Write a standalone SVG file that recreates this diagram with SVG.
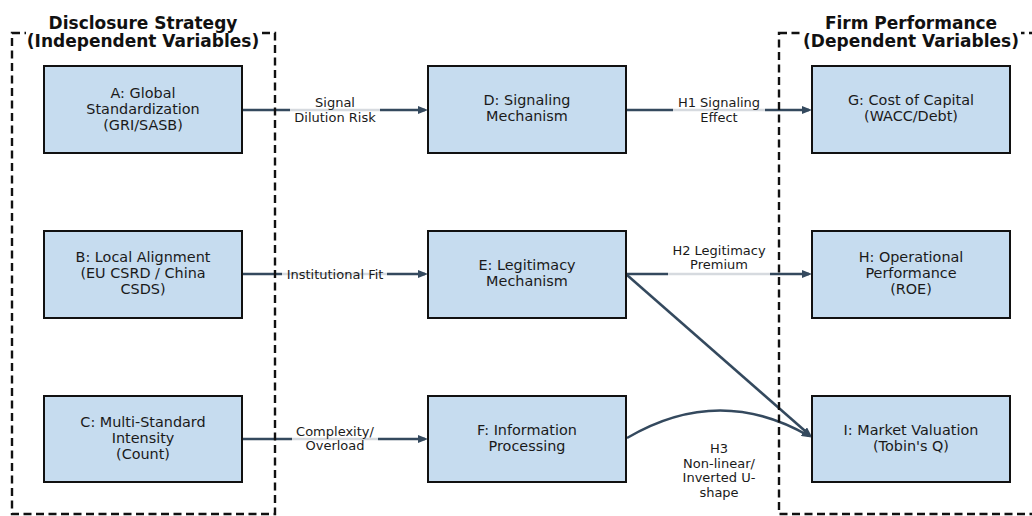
<svg xmlns="http://www.w3.org/2000/svg" width="1032" height="516" viewBox="0 0 1032 516">
<style>
.node rect{fill:#c6dcef;stroke:#111;stroke-width:2}
.node text{font-family:"DejaVu Sans",sans-serif;font-size:14.4px;fill:#1a1a1a;text-anchor:middle}
.edge{fill:none;stroke:#34495e;stroke-width:2.5;marker-end:url(#ah)}
.lbg{fill:#fff;opacity:0.8}
.lbl{font-family:"DejaVu Sans",sans-serif;font-size:13px;fill:#1a1a1a;text-anchor:middle}
.grp{fill:none;stroke:#111;stroke-width:2.4;stroke-dasharray:8 4.5}
.ttl{font-family:"DejaVu Sans",sans-serif;font-size:17px;font-weight:bold;fill:#111;text-anchor:middle}
</style>
<defs>
<marker id="ah" viewBox="0 0 10 8" refX="7" refY="4" markerWidth="10" markerHeight="8" markerUnits="userSpaceOnUse" orient="auto">
<path d="M0,0 L10,4 L0,8 z" fill="#34495e"/>
</marker>
</defs>
<rect width="1032" height="516" fill="#fff"/>
<g id="connectors">
<path class="edge" d="M242,110 L425,110"/>
<path class="edge" d="M626,110 L809,110"/>
<path class="edge" d="M242,274 L425,274"/>
<path class="edge" d="M626,274 L809,274"/>
<path class="edge" d="M242,439 L425,439"/>
<path class="edge" d="M627,275 L809.7,435"/>
<path class="edge" d="M627,438 Q719,384 809,436"/>
<rect class="lbg" x="290" y="94" width="90" height="32"/>
<text class="lbl" x="335" y="107">Signal</text>
<text class="lbl" x="335" y="121.5">Dilution Risk</text>
<rect class="lbg" x="673" y="94" width="92" height="32"/>
<text class="lbl" x="719" y="107">H1 Signaling</text>
<text class="lbl" x="719" y="121.5">Effect</text>
<rect class="lbg" x="282" y="264" width="105" height="20"/>
<text class="lbl" x="335" y="278.5">Institutional Fit</text>
<rect class="lbg" x="668" y="241" width="102" height="35"/>
<text class="lbl" x="719" y="254.5">H2 Legitimacy</text>
<text class="lbl" x="719" y="269">Premium</text>
<rect class="lbg" x="292" y="422" width="86" height="32"/>
<text class="lbl" x="335" y="435.5">Complexity/</text>
<text class="lbl" x="335" y="450">Overload</text>
<text class="lbl" x="719" y="453">H3</text>
<text class="lbl" x="719" y="467.5">Non-linear/</text>
<text class="lbl" x="719" y="482">Inverted U-</text>
<text class="lbl" x="719" y="496.5">shape</text>
</g>
<g id="group-independent">
<rect class="grp" x="12" y="33" width="263" height="481"/>
<rect x="26" y="12" width="234" height="40" fill="#fff"/>
<text class="ttl" x="143" y="29">Disclosure Strategy</text>
<text class="ttl" x="143" y="47">(Independent Variables)</text>
</g>
<g id="group-dependent">
<rect class="grp" x="779" y="33" width="270" height="481"/>
<rect x="801" y="12" width="220" height="40" fill="#fff"/>
<text class="ttl" x="911" y="29">Firm Performance</text>
<text class="ttl" x="911" y="47">(Dependent Variables)</text>
</g>
<g id="node-A" class="node"><rect x="44" y="66" width="198" height="87"/><text x="143" y="98">A: Global</text><text x="143" y="114">Standardization</text><text x="143" y="130">(GRI/SASB)</text></g>
<g id="node-B" class="node"><rect x="44" y="231" width="198" height="87"/><text x="143" y="262">B: Local Alignment</text><text x="143" y="278">(EU CSRD / China</text><text x="143" y="294">CSDS)</text></g>
<g id="node-C" class="node"><rect x="44" y="396" width="198" height="86"/><text x="143" y="427">C: Multi-Standard</text><text x="143" y="443">Intensity</text><text x="143" y="459">(Count)</text></g>
<g id="node-D" class="node"><rect x="428" y="66" width="198" height="87"/><text x="527" y="105">D: Signaling</text><text x="527" y="121">Mechanism</text></g>
<g id="node-E" class="node"><rect x="428" y="231" width="198" height="87"/><text x="527" y="270">E: Legitimacy</text><text x="527" y="286">Mechanism</text></g>
<g id="node-F" class="node"><rect x="428" y="396" width="198" height="86"/><text x="527" y="435">F: Information</text><text x="527" y="451">Processing</text></g>
<g id="node-G" class="node"><rect x="812" y="66" width="198" height="87"/><text x="911" y="105">G: Cost of Capital</text><text x="911" y="121">(WACC/Debt)</text></g>
<g id="node-H" class="node"><rect x="812" y="231" width="198" height="87"/><text x="911" y="262">H: Operational</text><text x="911" y="278">Performance</text><text x="911" y="294">(ROE)</text></g>
<g id="node-I" class="node"><rect x="812" y="396" width="198" height="86"/><text x="911" y="435">I: Market Valuation</text><text x="911" y="451">(Tobin's Q)</text></g>
</svg>
